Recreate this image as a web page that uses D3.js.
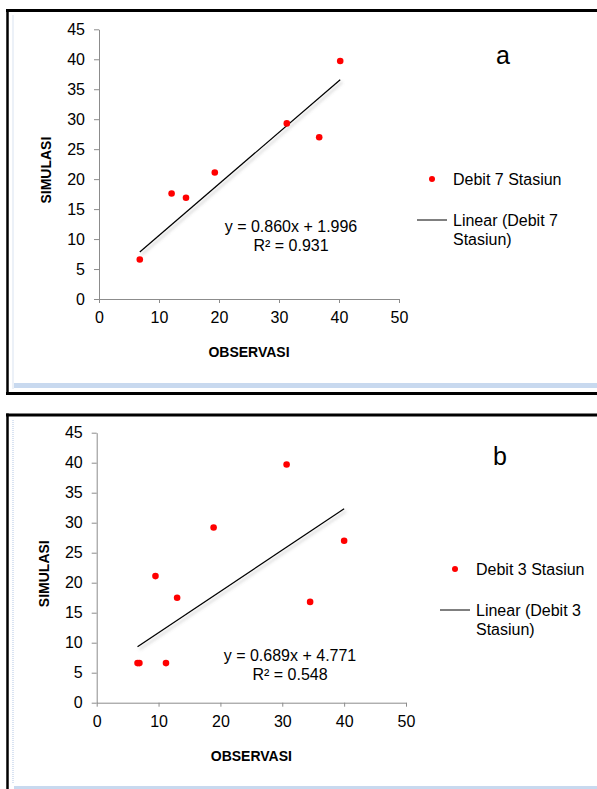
<!DOCTYPE html>
<html>
<head>
<meta charset="utf-8">
<script src="https://cdn.jsdelivr.net/npm/d3@7"></script>
<style>
  body { margin: 0; background: #fff; }
  svg { display: block; font-family: "Liberation Sans", Arial, sans-serif; }
</style>
</head>
<body>
<svg id="chart" width="597" height="789"></svg>
<script>
// panel a - 7 stations
const obsA = [6.8, 12.1, 14.5, 19.3, 31.3, 36.7, 40.2];
const simA = [6.6, 17.6, 16.9, 21.1, 29.3, 27.0, 39.7];
const trendA = { slope: 0.860, intercept: 1.996, r2: 0.931 };

// panel b - 3 stations
const obsB = [6.6, 6.9, 11.2, 9.5, 13.0, 18.9, 30.7, 34.5, 40.0];
const simB = [6.6, 6.6, 6.6, 21.1, 17.5, 29.2, 39.7, 16.8, 27.0];
const trendB = { slope: 0.689, intercept: 4.771, r2: 0.548 };

const xTicks = [0, 10, 20, 30, 40, 50];
const yTicks = [0, 5, 10, 15, 20, 25, 30, 35, 40, 45];

const svg = d3.select("#chart");

const defs = svg.append("defs");
defs.append("filter")
    .attr("id", "shadow")
    .attr("x", "-10%").attr("y", "-10%")
    .attr("width", "130%").attr("height", "130%")
  .append("feDropShadow")
    .attr("dx", 2).attr("dy", 2.5)
    .attr("stdDeviation", 1.5)
    .attr("flood-color", "#777")
    .attr("flood-opacity", 0.45);

function frame(top, bottom) {
    // black border (top + left)
    svg.append("line").attr("x1", 6).attr("x2", 597).attr("y1", top).attr("y2", top)
        .attr("stroke", "#000").attr("stroke-width", 3);
    svg.append("line").attr("x1", 7.5).attr("x2", 7.5).attr("y1", top - 1.5).attr("y2", bottom)
        .attr("stroke", "#000").attr("stroke-width", 2.5);
    // pale blue dotted stripe on the left
    svg.append("line").attr("x1", 13).attr("x2", 13).attr("y1", top + 5).attr("y2", bottom - 6)
        .attr("stroke", "#d9e3f2").attr("stroke-width", 2).attr("stroke-dasharray", "1,1");
}

function panel(cfg) {
    const x = d3.scaleLinear().domain([0, 50]).range([cfg.x0, cfg.x1]);
    const y = d3.scaleLinear().domain([0, 45]).range([cfg.y0, cfg.y1]);
    const g = svg.append("g");

    const xAxis = g.append("g")
        .attr("transform", `translate(0,${cfg.y0})`)
        .call(d3.axisBottom(x).tickValues(xTicks).tickSize(4).tickPadding(9).tickSizeOuter(0));
    const yAxis = g.append("g")
        .attr("transform", `translate(${cfg.x0},0)`)
        .call(d3.axisLeft(y).tickValues(yTicks).tickSize(5).tickPadding(9).tickSizeOuter(0));
    [xAxis, yAxis].forEach(a => {
        a.select(".domain").attr("stroke", "#8c8c8c");
        a.selectAll(".tick line").attr("stroke", "#8c8c8c");
        a.selectAll(".tick text")
            .attr("fill", "#000")
            .style("font-size", "16px")
            .style("font-family", "'Liberation Sans', Arial, sans-serif");
    });

    // axis titles
    g.append("text")
        .attr("x", (cfg.x0 + cfg.x1) / 2)
        .attr("y", cfg.y0 + 58)
        .attr("text-anchor", "middle")
        .style("font-size", "14px").style("font-weight", "bold")
        .text("OBSERVASI");
    g.append("text")
        .attr("transform", `translate(${cfg.titleX},${(cfg.y0 + cfg.y1) / 2 + 6}) rotate(-90)`)
        .attr("text-anchor", "middle")
        .style("font-size", "14px").style("font-weight", "bold")
        .text("SIMULASI");

    // trend line from the equation
    const xs = d3.extent(cfg.obs);
    g.append("line")
        .attr("x1", x(xs[0])).attr("y1", y(cfg.trend.slope * xs[0] + cfg.trend.intercept))
        .attr("x2", x(xs[1])).attr("y2", y(cfg.trend.slope * xs[1] + cfg.trend.intercept))
        .attr("stroke", "#000").attr("stroke-width", 1.3)
        .attr("filter", "url(#shadow)");

    g.selectAll("circle.pt")
        .data(cfg.obs.map((o, i) => [o, cfg.sim[i]]))
        .join("circle")
        .attr("class", "pt")
        .attr("cx", d => x(d[0]))
        .attr("cy", d => y(d[1]))
        .attr("r", 3.3)
        .attr("fill", "#ff0000");

    // equation
    g.append("text")
        .attr("x", cfg.eqX).attr("y", cfg.eqY)
        .attr("text-anchor", "middle")
        .style("font-size", "16px")
        .text(`y = ${cfg.trend.slope.toFixed(3)}x + ${cfg.trend.intercept.toFixed(3)}`);
    g.append("text")
        .attr("x", cfg.eqX).attr("y", cfg.eqY + 19)
        .attr("text-anchor", "middle")
        .style("font-size", "16px")
        .text(`R² = ${cfg.trend.r2.toFixed(3)}`);

    // panel letter
    g.append("text")
        .attr("x", cfg.letterX).attr("y", cfg.letterY)
        .attr("text-anchor", "middle")
        .style("font-size", "25px")
        .text(cfg.letter);

    // legend
    g.append("circle")
        .attr("cx", cfg.legX - 21).attr("cy", cfg.legY)
        .attr("r", 3).attr("fill", "#ff0000");
    g.append("text")
        .attr("x", cfg.legX).attr("y", cfg.legY + 5.5)
        .style("font-size", "16px")
        .text(cfg.name);
    g.append("line")
        .attr("x1", cfg.legX - 36).attr("x2", cfg.legX - 6)
        .attr("y1", cfg.legY + 41).attr("y2", cfg.legY + 41)
        .attr("stroke", "#000").attr("stroke-width", 1);
    const lt = g.append("text")
        .attr("x", cfg.legX).attr("y", cfg.legY + 46.5)
        .style("font-size", "16px");
    lt.append("tspan").text("Linear (" + cfg.name.replace(" Stasiun", ""));
    lt.append("tspan").attr("x", cfg.legX).attr("dy", 19).text("Stasiun)");
}

// panel a frame
frame(10.5, 395);
svg.append("rect").attr("x", 14).attr("y", 383).attr("width", 583).attr("height", 5).attr("fill", "#c8d9ef");
svg.append("line").attr("x1", 6).attr("x2", 597).attr("y1", 393.5).attr("y2", 393.5)
    .attr("stroke", "#000").attr("stroke-width", 3);

// panel b frame
frame(415, 789);
svg.append("rect").attr("x", 14).attr("y", 786).attr("width", 583).attr("height", 3).attr("fill", "#c8d9ef");

panel({
    obs: obsA, sim: simA, trend: trendA, name: "Debit 7 Stasiun", letter: "a",
    x0: 99, x1: 399, y0: 299, y1: 29.3, titleX: 51,
    eqX: 291, eqY: 232, letterX: 503, letterY: 64, legX: 453, legY: 179
});

panel({
    obs: obsB, sim: simB, trend: trendB, name: "Debit 3 Stasiun", letter: "b",
    x0: 96.7, x1: 406, y0: 702.7, y1: 432.7, titleX: 49,
    eqX: 290, eqY: 661, letterX: 500, letterY: 465, legX: 476, legY: 569
});
</script>
</body>
</html>
